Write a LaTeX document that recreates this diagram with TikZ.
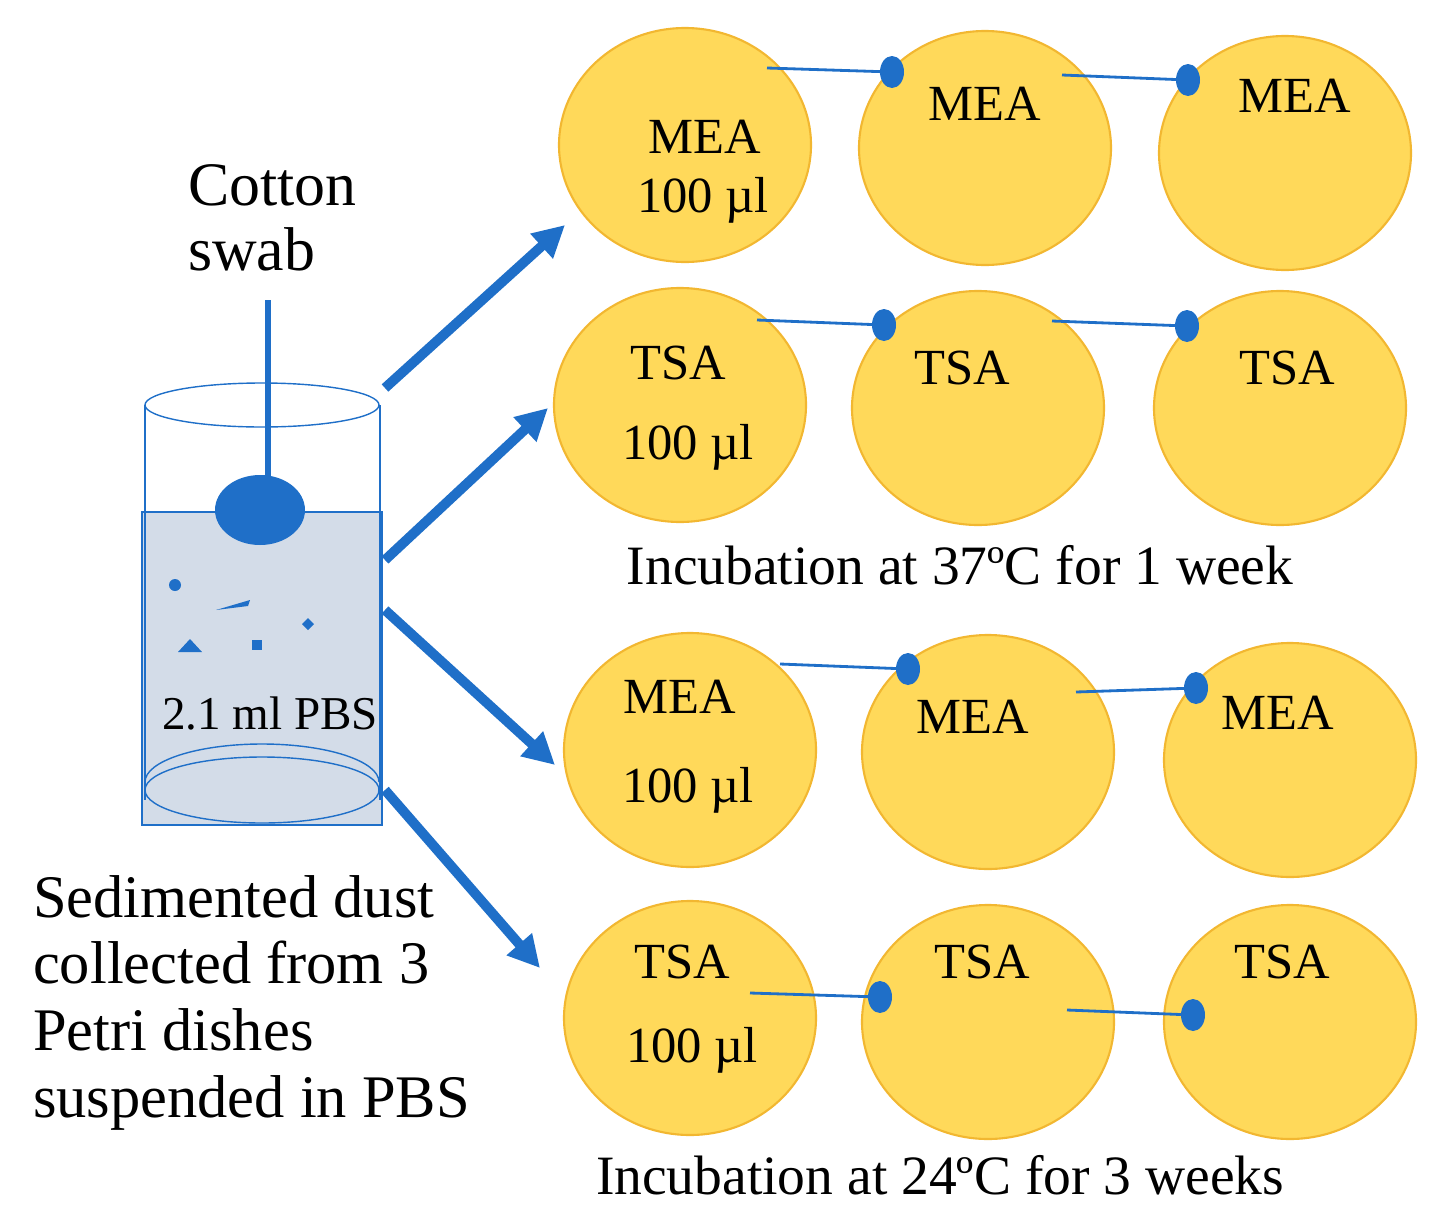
\documentclass[tikz,border=0pt]{standalone}
\usepackage{fontspec}
\setmainfont{Liberation Serif}
\usetikzlibrary{arrows.meta}
\definecolor{plate}{HTML}{FFD95A}
\definecolor{plateb}{HTML}{F2B731}
\definecolor{bl}{HTML}{1F6FC8}
\definecolor{water}{HTML}{D3DCE8}
\begin{document}
\begin{tikzpicture}[x=0.05cm,y=-0.05cm,
  pl/.style={draw=plateb,fill=plate,line width=3pt},
  lk/.style={draw=bl,line width=4pt},
  dt/.style={fill=bl,draw=none},
  arr/.style={draw=bl,line width=14pt,-{Triangle[length=45pt,width=45pt]}},
  tx/.style={font=\fontsize{72}{78}\selectfont,inner sep=0}]
\useasboundingbox (0,0) rectangle (1437,1223);
% plates
\foreach \n/\x/\y in {a1/685/145,a2/985/148,a3/1285/153,b1/680/405,b2/978/408,b3/1280/408,c1/690/750,c2/988/752,c3/1290/760,d1/690/1018,d2/988/1022,d3/1290/1022}
  \path[pl] (\x,\y) ellipse [x radius=126,y radius=117];
% links
\foreach \sx/\sy/\ex/\ey in {767/68/892/72,1062/75/1188/80,757/320/884/325,1052/321/1187/326,780/664/908/669,1076/692/1196/688,750/993/880/997,1067/1010/1193/1015}{
  \coordinate (s) at (\sx,\sy); \coordinate (e) at (\ex,\ey);
  \draw[lk] (s) -- (e);
  \fill[dt] (e) ellipse [x radius=12,y radius=16];}
% plate texts
\node[tx] (t1) at (705,137) {MEA}; \node[tx] at (703,200) {100 µl};
\node[tx] at (985,104) {MEA}; \node[tx] at (1295,96) {MEA};
\node[tx] at (678,363) {TSA}; \node[tx] at (688,447) {100 µl};
\node[tx] at (962,368) {TSA}; \node[tx] at (1287,368) {TSA};
\node[tx] at (680,697) {MEA}; \node[tx] at (688,790) {100 µl};
\node[tx] at (973,717) {MEA}; \node[tx] at (1278,713) {MEA};
\node[tx] at (682,962) {TSA}; \node[tx] at (692,1050) {100 µl};
\node[tx] at (982,962) {TSA}; \node[tx] at (1282,962) {TSA};
\node[tx,font=\fontsize{79}{85}\selectfont] at (960,565) {Incubation at 37ºC for 1 week};
\node[tx,font=\fontsize{79}{85}\selectfont] at (940,1175) {Incubation at 24ºC for 3 weeks};
% beaker
\fill[water,draw=bl,line width=2pt] (142,512) rectangle (382,825);
\draw[bl,line width=2pt] (145,405) -- (145,800) (380,405) -- (380,800);
\draw[bl,line width=2pt] (262,405) ellipse [x radius=117,y radius=22];
\draw[bl,line width=2pt] (262,790) ellipse [x radius=117,y radius=33];
\draw[bl,line width=2pt] (145,782) arc[start angle=180,end angle=360,x radius=117,y radius=38];
\draw[bl,line width=8pt] (268,300) -- (268,490);
\fill[bl] (260,510) ellipse [x radius=45,y radius=35];
\fill[bl] (175,585) circle (6);
\fill[bl] (216,610) -- (250,600) -- (248,606) -- cycle;
\fill[bl] (178,652) -- (202,652) -- (190,639) -- cycle;
\fill[bl] (252,640) rectangle (262,650);
\fill[bl] (308,618) -- (314,624) -- (308,630) -- (302,624) -- cycle;
\node[tx,font=\fontsize{67}{72}\selectfont] at (270,713) {2.1 ml PBS};
\node[tx,anchor=west,align=left,font=\fontsize{88}{92}\selectfont] at (188,218) {Cotton\\swab};
\node[tx,anchor=north west,align=left,font=\fontsize{86}{95}\selectfont] at (33,875) {Sedimented dust\\collected from 3\\Petri dishes\\suspended in PBS};
% arrows
\coordinate (o1) at (385,388); \coordinate (o2) at (385,560); \coordinate (o3) at (385,610); \coordinate (o4) at (385,790);
\draw[arr] (o1) -- (565,225);
\draw[arr] (o2) -- (548,408);
\draw[arr] (o3) -- (555,765);
\draw[arr] (o4) -- (540,968);
\end{tikzpicture}
\end{document}
